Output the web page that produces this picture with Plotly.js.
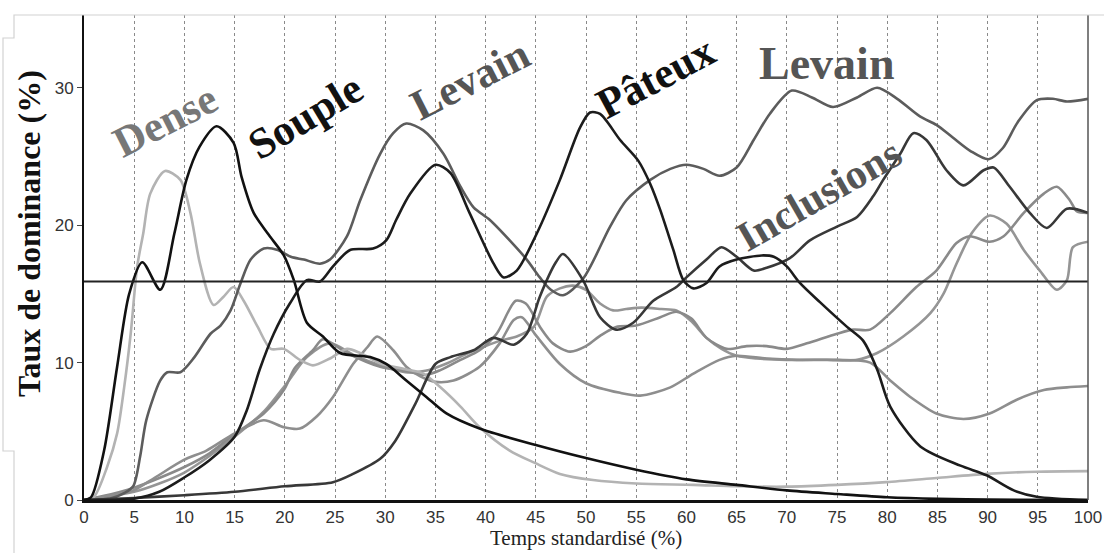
<!DOCTYPE html>
<html>
<head>
<meta charset="utf-8">
<script src="https://cdn.plot.ly/plotly-3.0.1.min.js"></script>
<style>html,body{margin:0;padding:0;background:#fff;}#chart{width:1104px;height:553px;}</style>
</head>
<body>
<div id="chart"></div>
<script>
// ---------------- DATA ----------------
const xTicks = [0,5,10,15,20,25,30,35,40,45,50,55,60,65,70,75,80,85,90,95,100];
const yTicks = [0,10,20,30];
const significanceLevel = 15.9;

const xSouple = [0,0.7,2,3.3,4.5,5.8,7.6,9,10.2,11.5,13.2,14.9,15.7,16.9,18.4,19.9,20.9,22.2,23.8,25.5,28.5,30.1,32.1,34.1,36.1,39.4,45,50,55,60,65,70,75,80,85,90,100];
const ySouple = [0,0.2,3.6,9.7,15,17.3,15.3,19.4,23.3,25.7,27.2,26,23.5,20.9,19.3,17.8,16,12.9,11.9,10.7,10.4,9.9,8.7,7.5,6.3,5.2,4,3.05,2.2,1.5,1.1,0.7,0.44,0.2,0.08,0.03,0];

const xPateux = [0,3,5,7.5,9.9,12.5,15,16.2,17.5,18.9,20.5,22.2,23.5,24.8,26.5,28.8,30.1,31.1,32.5,35,36.5,38.4,40.8,41.8,43.1,45.1,47.4,49.4,50.4,51.4,53.4,55.2,56.4,57.4,58.7,59.7,60.7,62,63.3,65,67.5,68.7,70,71.3,73.3,76,77.6,79,80.3,83.3,87.3,89.9,92.6,94.9,100];
const yPateux = [0,0,0.1,0.6,1.6,2.9,4.6,6.5,9.5,12.1,14.3,16,15.9,17,18.2,18.3,18.9,20.4,22.3,24.4,23.8,20.9,17.2,16.2,16.7,19.4,23.3,27.1,28.2,28.1,26.2,24.7,23,21.1,18.2,16,15.4,15.8,17,17.5,17.8,17.7,17,15.8,14.4,12.6,11.6,9.5,6.8,3.9,2.5,1.8,0.7,0.24,0];

const xInclusions = [0,5,10,15,20,24.8,26.8,29.5,31,33,35,36.5,38.8,40.8,42.8,44.1,45.4,47,47.7,49.7,51.4,53,54.7,56.7,59,60,62,63.5,65,66.7,68,70.3,72.3,75,77,78.6,79.6,81.3,82.6,83.9,85.9,87.6,89.6,90.6,92.2,94.2,95.9,97.9,100];
const yInclusions = [0,0.15,0.35,0.6,1.0,1.3,1.9,3.0,4.3,7,9.9,10.4,10.9,11.8,11.3,12.1,14.8,17.3,17.9,16,13.3,12.4,12.9,14.5,15.5,16.2,17.5,18.4,17.7,16.7,16.9,17.6,18.9,19.9,20.6,22.1,23.3,25.2,26.7,26.2,24,22.9,24,24.2,22.8,20.9,19.8,21.2,20.9];

const xLevain = [0,2.6,4,4.9,5.6,6.2,7.6,8.3,9.6,11,12.6,13.6,14.6,15.6,16.6,17.9,19.3,20.6,21.9,23.5,24.5,26.2,27.5,29.5,30.8,32.1,33.8,35.8,37.5,38.8,40.4,42.4,44.1,45.4,46.5,47.7,49.7,52.4,54,56.4,58.4,60,61.7,63.3,65,66.7,68.3,70.5,72.5,74.6,77,79,81,83.3,84.9,86.5,88.3,90.1,91.5,93,94.9,96.5,97.9,100];
const yLevain = [0,0.1,0.5,1.0,3.2,5.8,8.7,9.3,9.3,10.4,12.1,12.7,13.8,15.8,17.5,18.3,18.2,17.7,17.5,17.2,17.5,19.2,21.8,25.2,26.7,27.4,26.9,25.2,22.8,21.3,20.4,18.9,17.5,16.2,15.3,14.9,16.1,19.9,21.8,23.3,24.1,24.4,24.1,23.6,24.2,26.2,28.1,29.8,29.3,28.6,29.3,30.0,29.2,27.9,27.3,26.4,25.4,24.8,25.6,27.5,29.1,29.2,29.0,29.2];

const xDense = [0,1,2.3,3.3,4,4.65,5.3,5.9,6.6,8.07,9.6,10.6,11.55,12.9,13.9,14.9,15.9,17.3,18.6,19.9,21.5,22.8,24.5,26.2,27.5,29.5,32.1,33.8,35.5,37.5,39.4,42.4,44.9,47.4,50.7,55,60.7,65,70,75,79.9,84.9,89.9,94.9,100];
const yDense = [0,0.24,2.4,4.85,8.2,12.1,17,19.4,22.3,23.95,23.3,20.9,17.2,14.2,14.8,15.5,14.5,12.6,11,11,10.2,9.8,10.3,11,10.7,9.95,9.5,9.2,8.2,6.8,5.3,3.6,2.7,1.9,1.45,1.2,1.1,1.0,0.97,1.1,1.3,1.6,1.9,2.06,2.1];

const xGrisA = [0,2.5,4.9,7,9.9,12.2,15,17.9,19.9,21.5,23.2,24.8,26.8,28.2,29.2,30.8,32.1,33.5,35,36.8,39.4,41.4,42.8,43.6,45,47.4,50,53.4,55.4,58.4,60.7,63.3,65,68,71,75,78.3,80.3,82.3,84.9,87.6,90.2,92.9,95.6,97.9,100];
const yGrisA = [0,0.3,0.7,1.6,2.9,3.6,4.85,5.8,5.3,5.2,6.1,7.5,9.9,11.1,11.9,10.9,9.7,9.0,8.6,8.7,9.7,11.4,13.1,13.3,12,9.9,8.5,7.8,7.6,8.2,9.2,10.2,10.5,10.3,10.2,10.2,10.0,8.7,7.5,6.3,5.9,6.3,7.3,8.0,8.2,8.3];

const xGrisB = [0,2,5,7.5,10,12.5,15,17.9,19.9,21,22.8,23.8,26.2,29.5,32,34,35.5,37.5,39.4,41.1,43,44,45.5,46.7,48.4,50,51.5,53,55,57.4,59,60.5,62,64,66,68,70,72,75,76.6,78.3,80.3,82.9,84.9,86.9,88.2,90.2,91.6,93.6,95.6,96.9,98.2,98.9,100];
const yGrisB = [0,0.3,0.9,1.6,2.4,3.4,4.8,6.3,8,9.6,10.9,11.7,10.7,9.7,9.4,9.1,9.45,10.2,10.9,12.1,14.5,14.3,12.5,11.4,10.8,11.2,12,12.6,12.7,13.3,13.7,13.2,11.8,11,11.2,11.2,11,11.4,12.1,12.4,12.4,13.6,15.5,16.7,18.7,19.2,18.8,19.2,20.9,22.3,22.8,21.8,21,20.9];

const xGrisC = [0,2,5,7.5,10,12.5,15,18,20.2,22.2,24.5,27,29.5,32,34,36,38,40,41.5,43.1,44.8,46.1,47.4,48.7,50,51.4,52.7,54,55.5,57.5,59,60.5,62,63.5,65,67,70,74,77,79,81.6,84.3,85.6,86.9,88.5,90.2,91.9,93.6,95.2,96.9,97.9,98.5,100];
const yGrisC = [0,0.2,0.6,1.2,2,3.2,4.6,6.5,8.5,10.4,11.4,10.5,9.8,9.3,9.4,9.9,10.6,11.2,11.6,11.9,12.6,14.8,15.4,15.6,15.3,14.3,13.8,13.9,14,13.9,13.8,13,11.8,11,10.5,10.3,10.2,10.2,10.2,10.7,11.9,13.6,15,17.2,19.5,20.7,20.1,18.2,16.7,15.3,16,18.4,18.8];

const labels = ["Dense","Souple","Levain","Pâteux","Levain","Inclusions"];
const xTitle = "Temps standardisé (%)";
const yTitle = "Taux de dominance (%)";

// ---------------- LAYOUT HELPERS ----------------
const L = 84, R = 1088, T = 15, B = 500;
const px = p => (p - L) / (R - L);
const py = p => (B - p) / (B - T);

function serie(x, y, color, w) {
  return {x: x, y: y, type: 'scatter', mode: 'lines',
          line: {color: color, width: w || 2.6, shape: 'spline', smoothing: 0.8},
          hoverinfo: 'skip', showlegend: false};
}

const data = [
  serie(xGrisC, yGrisC, '#959595'),
  serie(xGrisB, yGrisB, '#8a8a8a'),
  serie(xGrisA, yGrisA, '#8e8e8e'),
  serie(xDense, yDense, '#b3b3b3'),
  serie(xLevain, yLevain, '#5c5c5c'),
  serie(xInclusions, yInclusions, '#383838'),
  serie(xPateux, yPateux, '#1c1c1c'),
  serie(xSouple, ySouple, '#111111')
];

const serif = 'Liberation Serif, Times New Roman, serif';
function lab(text, cx, cy, angle, color, size) {
  return {text: text, xref: 'paper', yref: 'paper', x: px(cx), y: py(cy),
          xanchor: 'center', yanchor: 'middle', showarrow: false, textangle: angle,
          font: {family: serif, size: size, color: color, weight: 'bold'}};
}

const annotations = [
  lab(labels[0], 165, 120, -27, '#777777', 43),
  lab(labels[1], 305, 116, -31, '#111111', 43),
  lab(labels[2], 470, 80, -27, '#555555', 43),
  lab(labels[3], 655, 77, -28, '#111111', 43),
  lab(labels[4], 826, 64, 0, '#555555', 46),
  lab(labels[5], 819, 195, -30, '#555555', 42),
  {text: yTitle, xref: 'paper', yref: 'paper', x: px(29), y: py(234), xanchor: 'center', yanchor: 'middle',
   showarrow: false, textangle: -90, font: {family: serif, size: 32, color: '#111', weight: 'bold'}},
  {text: xTitle, xref: 'paper', yref: 'paper', x: px(586), y: py(538), xanchor: 'center', yanchor: 'middle',
   showarrow: false, font: {family: serif, size: 21, color: '#222'}}
];

const frame = '#d2d2d2';
const shapes = [
  {type: 'line', xref: 'paper', yref: 'y', x0: 0, x1: 1, y0: significanceLevel, y1: significanceLevel,
   line: {color: '#222', width: 2}},
  {type: 'line', xref: 'paper', yref: 'paper', x0: 1, x1: 1, y0: 0, y1: 1, line: {color: '#555', width: 1.5}},
  {type: 'path', xref: 'paper', yref: 'paper',
   path: `M ${px(1104)} ${py(15)} L ${px(14)} ${py(15)} L ${px(14)} ${py(38)} L ${px(3)} ${py(38)} L ${px(3)} ${py(451)} L ${px(14)} ${py(451)} L ${px(14)} ${py(553)}`,
   line: {color: frame, width: 1.2}}
];

const layout = {
  width: 1104, height: 553,
  margin: {l: L, r: 1104 - R, t: T, b: 553 - B, pad: 0},
  paper_bgcolor: '#ffffff', plot_bgcolor: '#ffffff',
  showlegend: false,
  xaxis: {range: [0, 100], tickvals: xTicks, ticktext: xTicks.map(String),
          showgrid: true, gridcolor: '#8a8a8a', griddash: 'dot', gridwidth: 1,
          showline: true, linecolor: '#111', linewidth: 2.5, zeroline: false,
          ticks: '', tickfont: {family: 'Liberation Sans, Arial, sans-serif', size: 17, color: '#333'}},
  yaxis: {range: [0, 35.3], tickvals: yTicks, ticktext: yTicks.map(String),
          showgrid: false, showline: true, linecolor: '#111', linewidth: 2, zeroline: false,
          ticks: 'outside', ticklen: 5, tickcolor: '#444', tickwidth: 1,
          tickfont: {family: 'Liberation Sans, Arial, sans-serif', size: 17, color: '#333'}},
  annotations: annotations,
  shapes: shapes
};

Plotly.newPlot('chart', data, layout, {displayModeBar: false, staticPlot: true});
</script>
</body>
</html>
